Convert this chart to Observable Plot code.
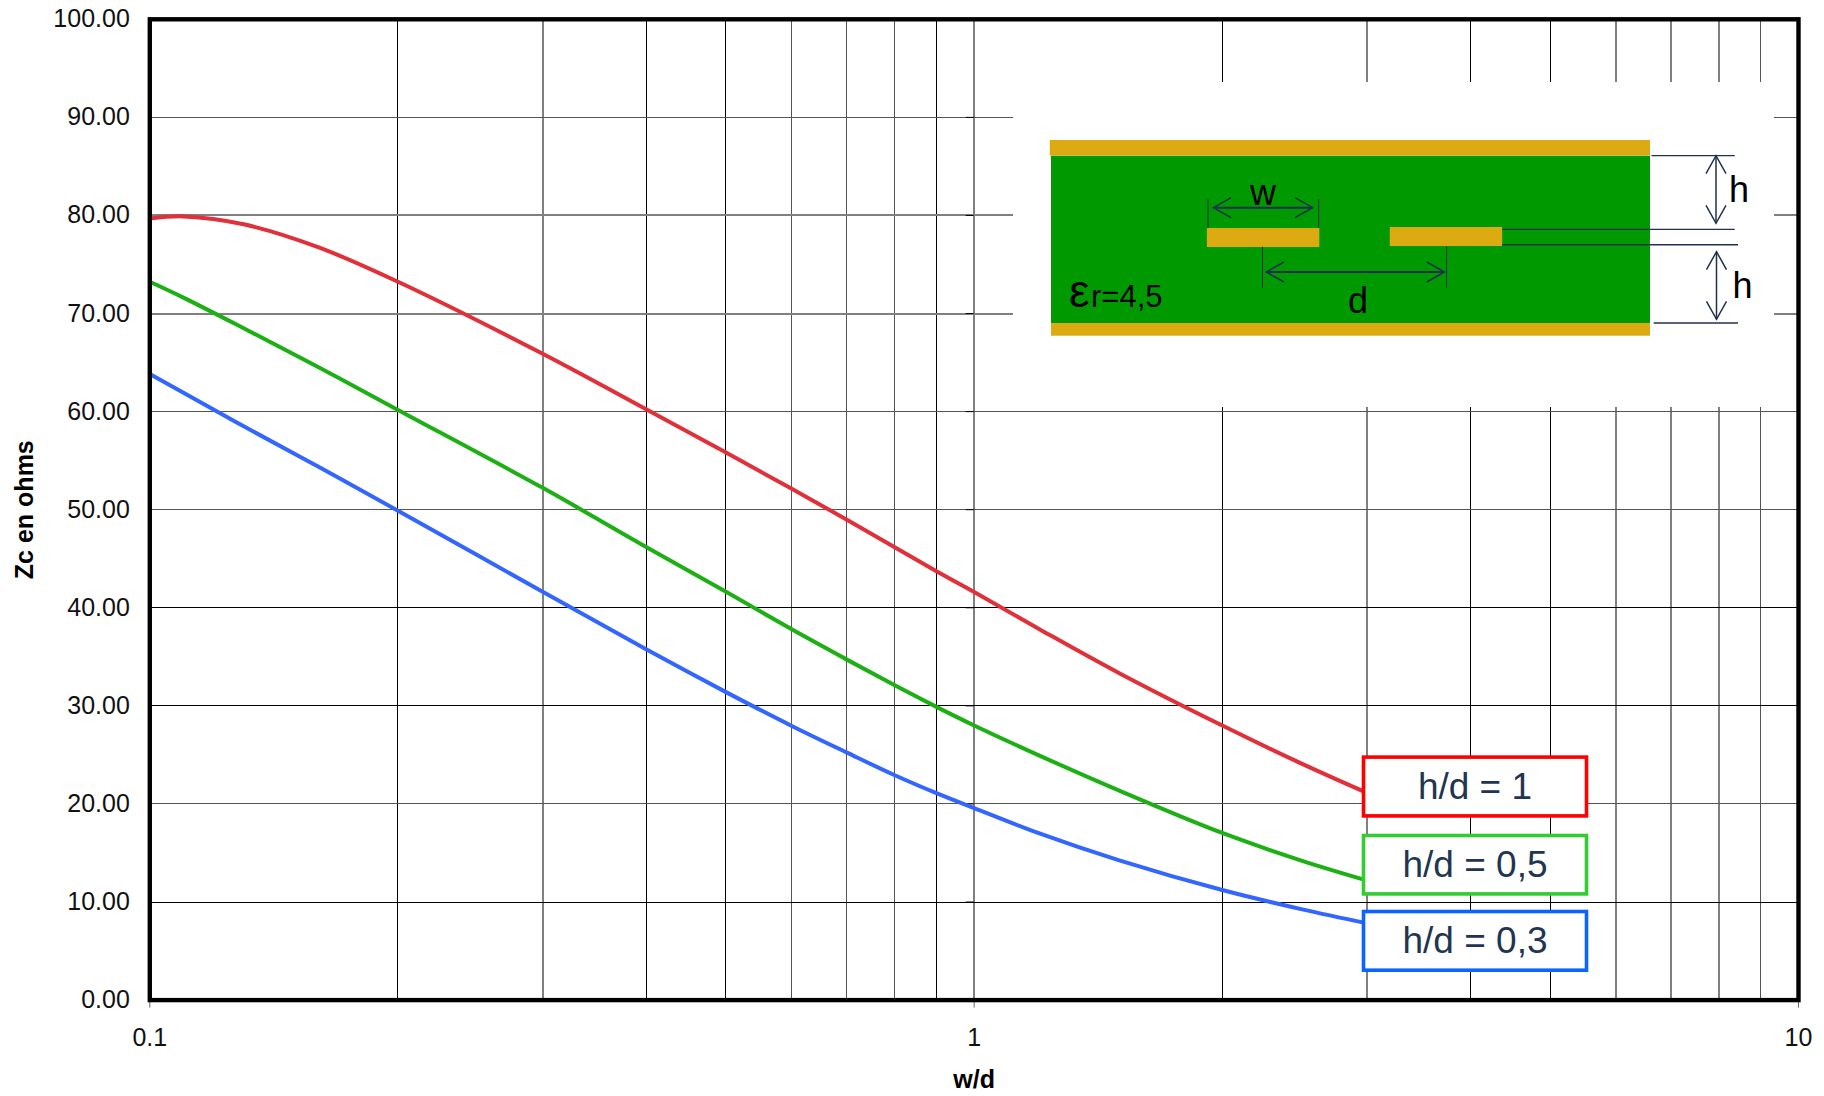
<!DOCTYPE html>
<html>
<head>
<meta charset="utf-8">
<script src="https://cdn.jsdelivr.net/npm/d3@7"></script>
<script src="https://cdn.jsdelivr.net/npm/@observablehq/plot@0.6"></script>
<style>
html,body{margin:0;padding:0;background:#fff;}
svg{display:block;}
</style>
</head>
<body>
<div id="chart"></div>
<script>
const wd = [0.1,0.11,0.13,0.16,0.2,0.3,0.4,0.5,0.6,0.7,0.8,0.9,1,1.2,1.5,2,2.5,3];
const zcH1 = [79.7,79.9,79.1,76.77,73.24,65.87,60.24,55.82,52.16,49.0,46.2,43.73,41.6,37.82,33.33,27.99,24.08,21.1];
const zcH05 = [73.24,71.6,68.5,64.55,60.17,52.2,46.2,41.63,37.83,34.74,32.12,29.9,28.0,24.93,21.36,17.04,14.2,12.18];
const zcH03 = [63.84,61.9,58.5,54.4,49.9,41.6,35.76,31.4,27.98,25.26,22.95,21.1,19.58,17.0,14.25,11.22,9.25,7.82];
const yTicks = [0,10,20,30,40,50,60,70,80,90,100];
const xLabelTicks = [0.1,1,10];
const xGridDark = [0.2,0.4,0.5,0.9,2,4,5];
const xGridMid = [0.6,0.7,0.8,9];
const xGridSoft = [0.3,1,3,6,7,8];
const yGridDark = [10,30,40];
const yGridMid = [20,50,60,90];
const yGridSoft = [70,80];
const legendLabels = ["h/d = 1","h/d = 0,5","h/d = 0,3"];
const FONT = "'Liberation Sans', Arial, sans-serif";

const series = [
  {values: zcH1, color: "#e0303a"},
  {values: zcH05, color: "#1db015"},
  {values: zcH03, color: "#3366ff"}
];

function schematic() {
  const g = d3.create("svg:g").attr("font-family", FONT);
  const rect = (x,y,w,h,fill) => g.append("rect").attr("x",x).attr("y",y).attr("width",w).attr("height",h).attr("fill",fill);
  const line = (x1,y1,x2,y2,sw=1.3,c="#1f3050") => g.append("line").attr("x1",x1).attr("y1",y1).attr("x2",x2).attr("y2",y2).attr("stroke",c).attr("stroke-width",sw);
  const txt = (s,x,y,size,anchor="start") => g.append("text").text(s).attr("x",x).attr("y",y).attr("font-size",size).attr("text-anchor",anchor).attr("fill","#000");
  const chev = (pts) => g.append("polyline").attr("points",pts.map(p=>p.join(",")).join(" ")).attr("fill","none").attr("stroke","#1f3050").attr("stroke-width",1.5);
  rect(1013,82,761,325,"#fff");
  rect(1051,155.7,599,167.3,"#009a00");
  rect(1049.8,140,600.2,15.7,"#dcab12");
  rect(1051,323,599,12.7,"#dcab12");
  rect(1206.9,228,112.4,19,"#dcab12");
  rect(1389.8,227,112.4,19,"#dcab12");
  line(1651.5,155.7,1734.7,155.7);
  line(1502,229.3,1734.7,229.3);
  line(1502,244.7,1738,244.7,1.5);
  line(1653.7,323,1738,323);
  // h arrows
  line(1716,155.7,1716,223.3,1.5);
  chev([[1706,173.7],[1716,155.7],[1726,173.7]]);
  chev([[1706,205.3],[1716,223.3],[1726,205.3]]);
  line(1716.5,251.7,1716.5,319.3,1.5);
  chev([[1706.5,269.7],[1716.5,251.7],[1726.5,269.7]]);
  chev([[1706.5,301.3],[1716.5,319.3],[1726.5,301.3]]);
  // w arrow
  line(1208,199.3,1208,227.7,1);
  line(1318.7,199.3,1318.7,227.7,1);
  line(1213.5,207.7,1312.7,207.7,2);
  chev([[1231,197.7],[1213.5,207.7],[1231,217.7]]);
  chev([[1295,197.7],[1312.7,207.7],[1295,217.7]]);
  // d arrow
  line(1262.5,246.7,1262.5,287.7,1);
  line(1446.6,246.7,1446.6,287.7,1);
  line(1266.4,272,1444.4,272,2);
  chev([[1284,262],[1266.4,272],[1284,282]]);
  chev([[1426.8,262],[1444.4,272],[1426.8,282]]);
  // labels
  txt("w",1263,205,36,"middle");
  txt("d",1358,313.3,36,"middle");
  txt("h",1729,201.7,36);
  txt("h",1732.5,298.3,36);
  txt("ε",1069,306.7,46);
  txt("r=4,5",1091,306.7,31);
  return g.node();
}

function legend() {
  const g = d3.create("svg:g").attr("font-family", FONT);
  const boxes = [
    {y:755.3+1.8, h:62.4-3.6, c:"#ff0000", base:798.6},
    {y:833.7+1.8, h:62-3.6, c:"#33cc33", base:877},
    {y:909.7+1.8, h:62.3-3.6, c:"#0a64ff", base:953}
  ];
  boxes.forEach((b,i) => {
    g.append("rect").attr("x",1363.5).attr("y",b.y).attr("width",223).attr("height",b.h)
      .attr("fill","#fff").attr("stroke",b.c).attr("stroke-width",3.6);
    g.append("text").text(legendLabels[i]).attr("x",1475).attr("y",b.base)
      .attr("text-anchor","middle").attr("font-size",37).attr("fill","#1f3552");
  });
  return g.node();
}

const gridStyle = {
  dark: {stroke: "#000", strokeWidth: 1, shapeRendering: "crispEdges"},
  mid: {stroke: "#555", strokeWidth: 1, shapeRendering: "crispEdges"},
  soft: {stroke: "#808080", strokeWidth: 2, shapeRendering: "crispEdges"}
};

const chart = Plot.plot({
  width: 1824,
  height: 1096,
  marginLeft: 149.3,
  marginRight: 26,
  marginTop: 18.8,
  marginBottom: 96.4,
  style: {fontFamily: FONT, background: "#fff"},
  x: {type: "log", domain: [0.1, 10]},
  y: {domain: [0, 100]},
  marks: [
    Plot.ruleX(xGridSoft, gridStyle.soft),
    Plot.ruleX(xGridMid, gridStyle.mid),
    Plot.ruleX(xGridDark, gridStyle.dark),
    Plot.ruleY(yGridSoft, gridStyle.soft),
    Plot.ruleY(yGridMid, gridStyle.mid),
    Plot.ruleY(yGridDark, gridStyle.dark),
    schematic,
    Plot.ruleY(yTicks.slice(1,-1), {x1: 0.978, x2: 1, stroke: "#000", strokeWidth: 1}),
    ...series.map(s => Plot.line(wd.map((w,i) => ({w, z: s.values[i]})), {
      x: "w", y: "z", stroke: s.color, strokeWidth: 4, curve: "catmull-rom"
    })),
    legend,
    Plot.axisX({
      ticks: xLabelTicks, tickFormat: d => String(d), tickSize: 8, tickPadding: 20,
      fontSize: 25, stroke: "#666", label: null, color: "#111"
    }),
    Plot.axisY({
      ticks: yTicks, tickFormat: d3.format(".2f"), tickSize: 0, tickPadding: 20,
      fontSize: 25, label: null, color: "#111"
    }),
    Plot.frame({stroke: "#000", strokeWidth: 4.4}),
    Plot.text(["w/d"], {
      frameAnchor: "bottom", dy: 80, lineAnchor: "middle", text: d => d,
      fontWeight: "bold", fontSize: 25, fill: "#000"
    }),
    Plot.text(["Zc en ohms"], {
      frameAnchor: "left", dx: -125, rotate: -90, textAnchor: "middle", text: d => d,
      fontWeight: "bold", fontSize: 25, fill: "#000"
    })
  ]
});
document.getElementById("chart").append(chart);
</script>
</body>
</html>
